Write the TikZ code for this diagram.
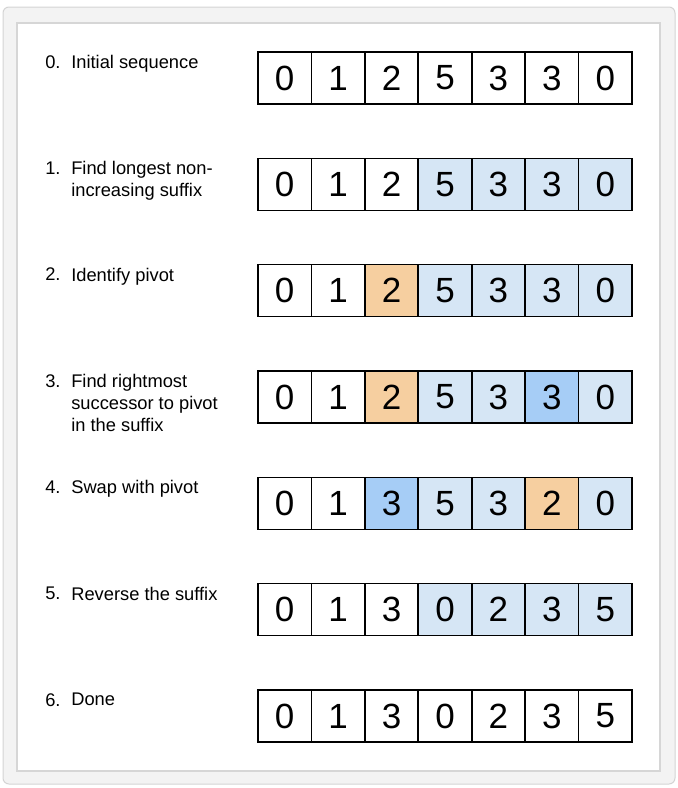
\documentclass[tikz,border=0pt]{standalone}
\usepackage{fontspec}
\setmainfont{Liberation Sans}
\usetikzlibrary{positioning}
\definecolor{suffixblue}{RGB}{214,230,245}
\definecolor{pivotorange}{RGB}{246,207,160}
\definecolor{succblue}{RGB}{166,205,246}
\definecolor{frameback}{RGB}{243,243,243}
\definecolor{frameline}{RGB}{212,212,212}
\definecolor{panelline}{RGB}{214,214,214}
\tikzset{
  every picture/.append style={line width=0.6pt},
}
\tikzset{
  cell/.style={draw=black, line width=1.6pt, minimum width=53.4pt, minimum height=52pt,
    inner sep=0pt, font=\fontsize{35}{40}\selectfont},
  stepnum/.style={anchor=north west, inner sep=0pt, font=\fontsize{18.3}{22}\selectfont},
  steptext/.style={anchor=north west, inner sep=0pt, align=left, font=\fontsize{18.3}{22}\selectfont}
}

\begin{document}
\begin{tikzpicture}[
  x=1pt, y=-1pt,
  % --- Frame styles ---
  outerframe/.style={draw=frameline, fill=frameback, line width=1pt, rounded corners=6pt},
  innerpanel/.style={draw=panelline, fill=white, line width=2.2pt},
]

% --- Geometry ---
\def\xnum{45}      % x of step numbers
\def\xtxt{71}      % x of step texts
\def\xcell{258}    % left edge of the cell rows
\def\cw{53.43}     % cell width
\def\ytop{52}      % top of the first row
\def\rowgap{106.33}% distance between rows

\useasboundingbox (0,0) rectangle (678,788);

% --- Frame ---
\draw[outerframe] (3,7) rectangle (675,784);
\draw[innerpanel] (17,23) rectangle (660,771);

% --- Row 0: initial sequence ---
\node[stepnum] (n0) at (\xnum,{\ytop+0*\rowgap+3}) {0.};
\node[steptext] (t0) at (\xtxt,{\ytop+0*\rowgap+3}) {Initial sequence};
\foreach \v/\c [count=\i] in {0/white,1/white,2/white,5/white,3/white,3/white,0/white}
  \node[cell, fill=\c] (r0c\i) at ({\xcell+(\i-0.5)*\cw},{\ytop+0*\rowgap+26}) {\v};

% --- Row 1: suffix ---
\node[stepnum] (n1) at (\xnum,{\ytop+1*\rowgap+3}) {1.};
\node[steptext] (t1) at (\xtxt,{\ytop+1*\rowgap+3}) {Find longest non-\\increasing suffix};
\foreach \v/\c [count=\i] in {0/white,1/white,2/white,5/suffixblue,3/suffixblue,3/suffixblue,0/suffixblue}
  \node[cell, fill=\c] (r1c\i) at ({\xcell+(\i-0.5)*\cw},{\ytop+1*\rowgap+26}) {\v};

% --- Row 2: pivot ---
\node[stepnum] (n2) at (\xnum,{\ytop+2*\rowgap+3}) {2.};
\node[steptext] (t2) at (\xtxt,{\ytop+2*\rowgap+3}) {Identify pivot};
\foreach \v/\c [count=\i] in {0/white,1/white,2/pivotorange,5/suffixblue,3/suffixblue,3/suffixblue,0/suffixblue}
  \node[cell, fill=\c] (r2c\i) at ({\xcell+(\i-0.5)*\cw},{\ytop+2*\rowgap+26}) {\v};

% --- Row 3: successor ---
\node[stepnum] (n3) at (\xnum,{\ytop+3*\rowgap+3}) {3.};
\node[steptext] (t3) at (\xtxt,{\ytop+3*\rowgap+3}) {Find rightmost\\successor to pivot\\in the suffix};
\foreach \v/\c [count=\i] in {0/white,1/white,2/pivotorange,5/suffixblue,3/suffixblue,3/succblue,0/suffixblue}
  \node[cell, fill=\c] (r3c\i) at ({\xcell+(\i-0.5)*\cw},{\ytop+3*\rowgap+26}) {\v};

% --- Row 4: swap ---
\node[stepnum] (n4) at (\xnum,{\ytop+4*\rowgap+3}) {4.};
\node[steptext] (t4) at (\xtxt,{\ytop+4*\rowgap+3}) {Swap with pivot};
\foreach \v/\c [count=\i] in {0/white,1/white,3/succblue,5/suffixblue,3/suffixblue,2/pivotorange,0/suffixblue}
  \node[cell, fill=\c] (r4c\i) at ({\xcell+(\i-0.5)*\cw},{\ytop+4*\rowgap+26}) {\v};

% --- Row 5: reverse ---
\node[stepnum] (n5) at (\xnum,{\ytop+5*\rowgap+3}) {5.};
\node[steptext] (t5) at (\xtxt,{\ytop+5*\rowgap+3}) {Reverse the suffix};
\foreach \v/\c [count=\i] in {0/white,1/white,3/white,0/suffixblue,2/suffixblue,3/suffixblue,5/suffixblue}
  \node[cell, fill=\c] (r5c\i) at ({\xcell+(\i-0.5)*\cw},{\ytop+5*\rowgap+26}) {\v};

% --- Row 6: done ---
\node[stepnum] (n6) at (\xnum,{\ytop+6*\rowgap+3}) {6.};
\node[steptext] (t6) at (\xtxt,{\ytop+6*\rowgap+3}) {Done};
\foreach \v/\c [count=\i] in {0/white,1/white,3/white,0/white,2/white,3/white,5/white}
  \node[cell, fill=\c] (r6c\i) at ({\xcell+(\i-0.5)*\cw},{\ytop+6*\rowgap+26}) {\v};

\end{tikzpicture}
\end{document}
